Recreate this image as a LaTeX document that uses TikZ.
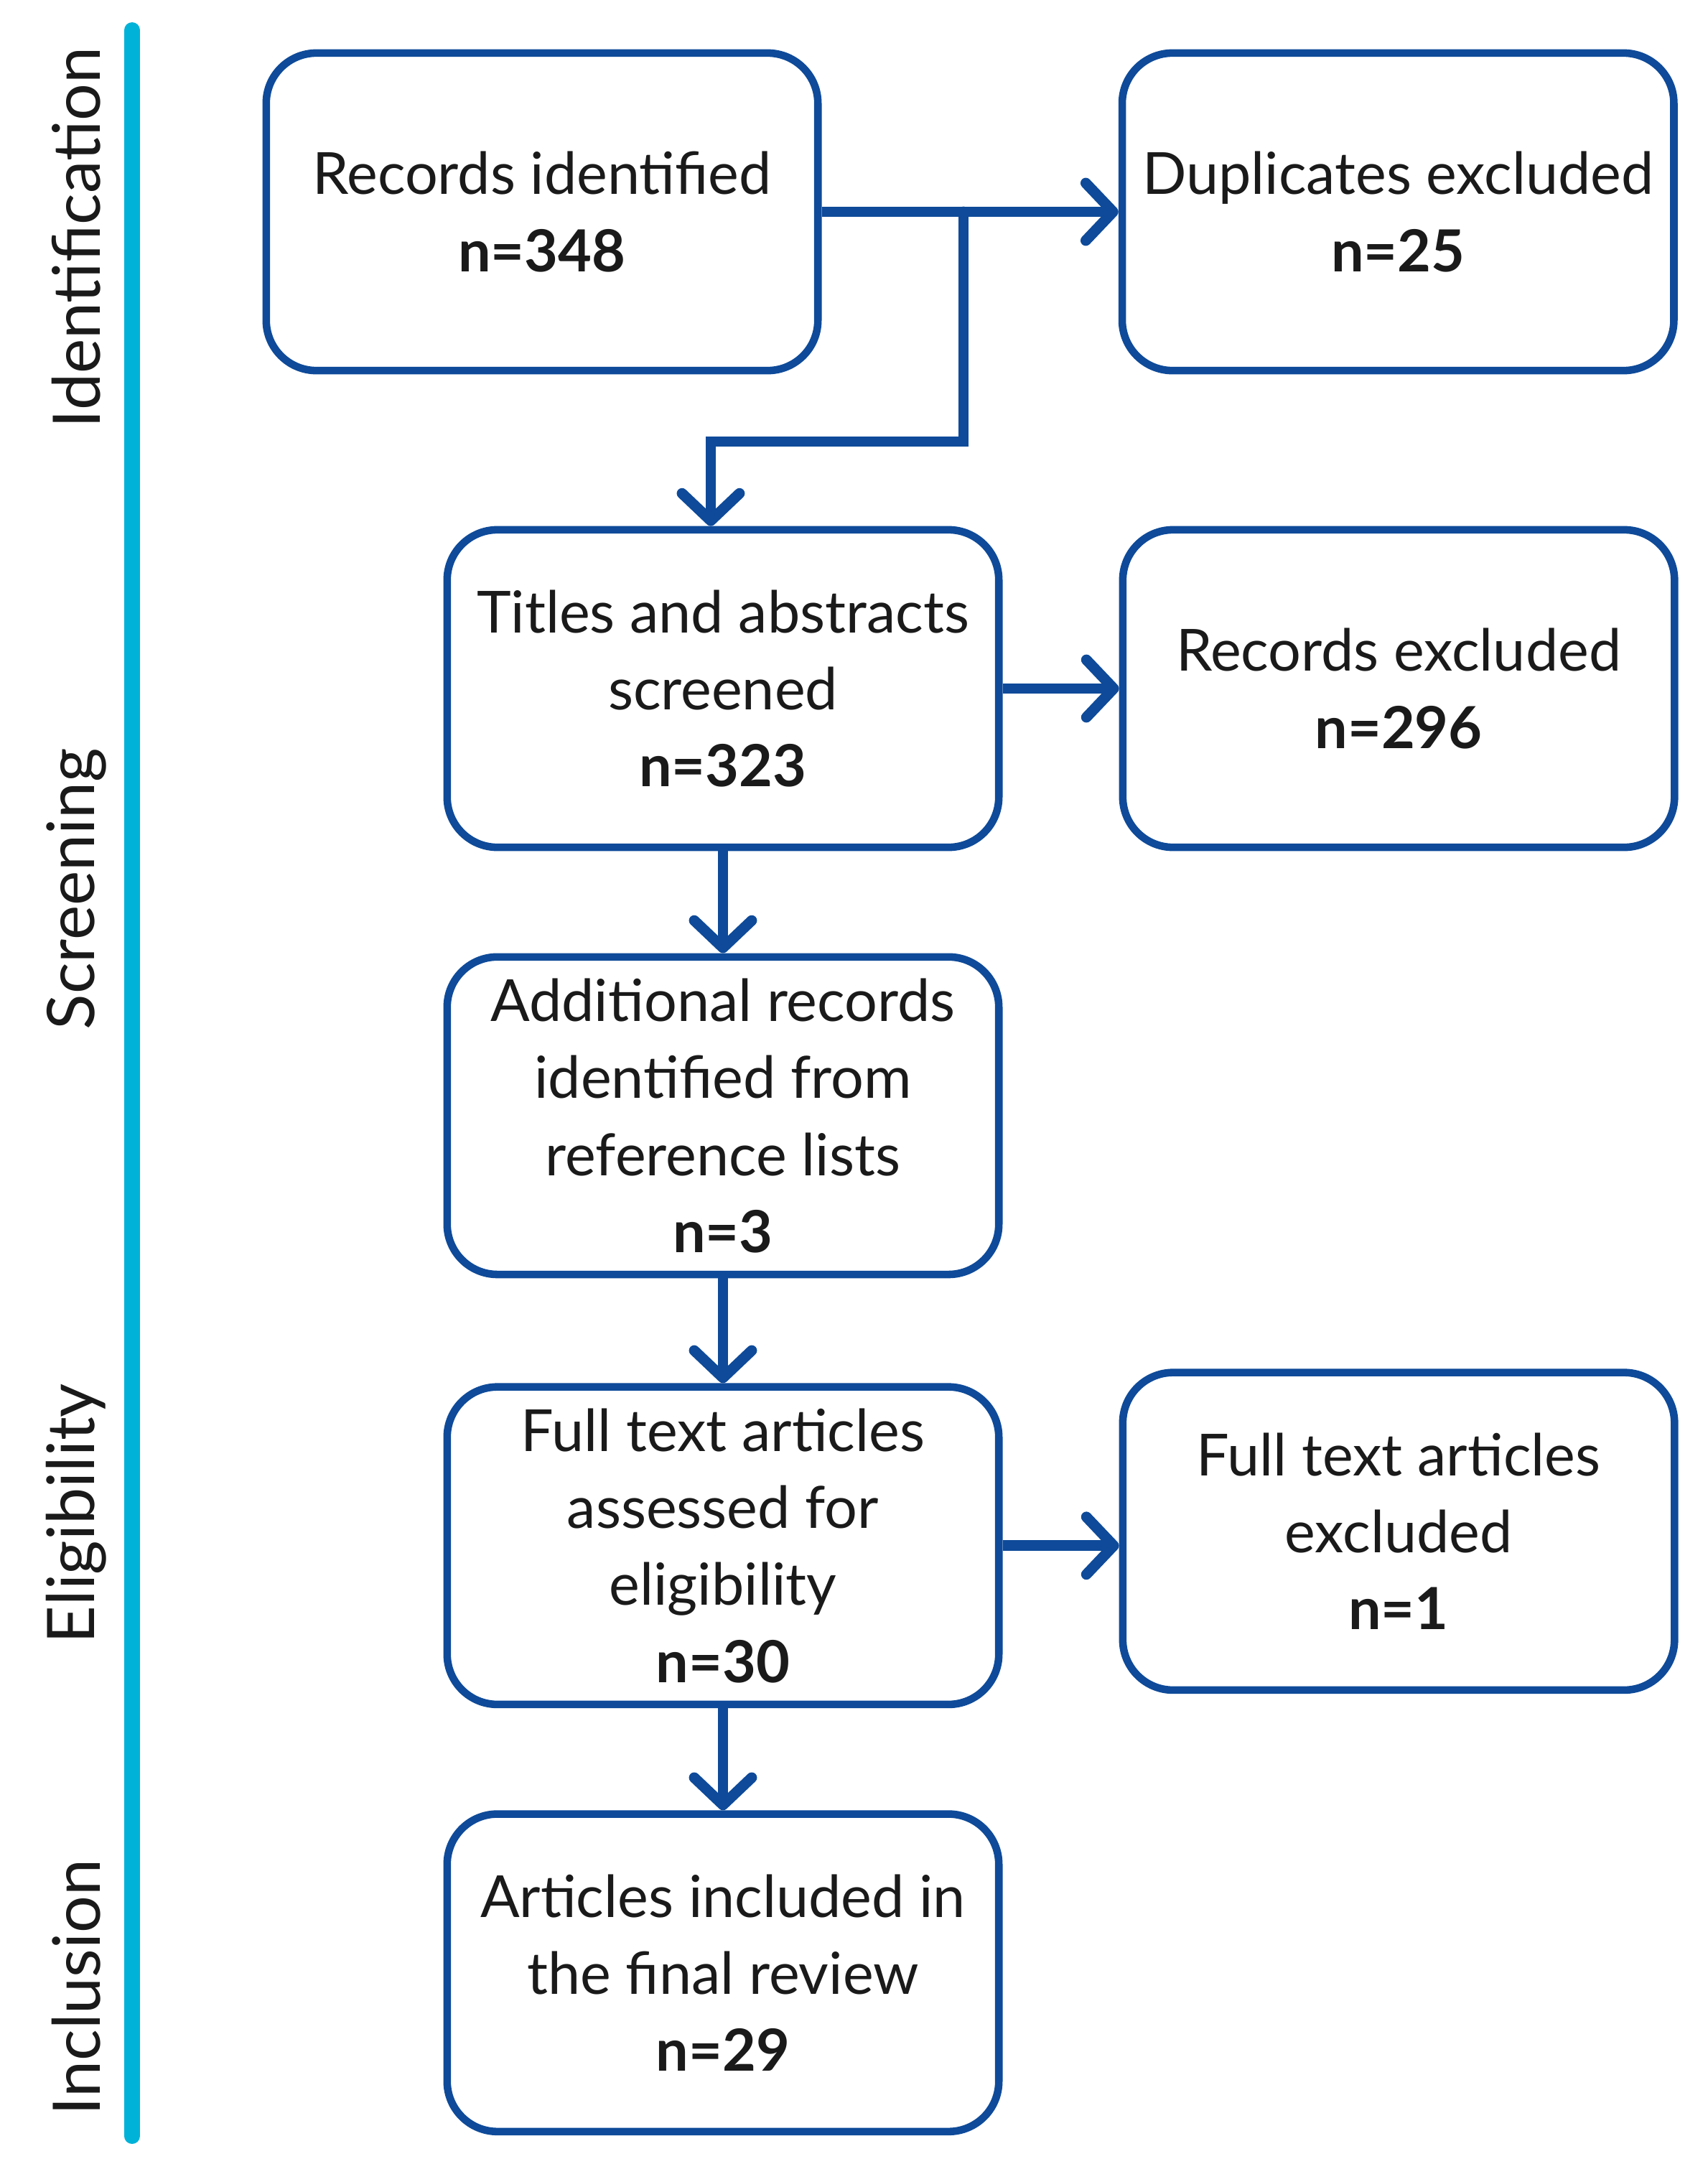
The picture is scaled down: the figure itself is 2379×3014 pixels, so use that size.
\documentclass[tikz,border=0pt]{standalone}
\usepackage{fontspec}
\setmainfont{Lato}
\usetikzlibrary{arrows.meta,positioning}
\definecolor{boxblue}{RGB}{14,74,153}
\definecolor{barcyan}{RGB}{0,178,216}
\definecolor{txt}{RGB}{26,26,26}

\begin{document}
\begin{tikzpicture}[x=0.01cm, y=-0.01cm, node distance=14.2mm,
    every node/.style={font=\fontsize{23}{30.5}\selectfont, text=txt},
    s/.style={draw=boxblue, line width=3pt, rounded corners=7mm, minimum width=7.68cm, minimum height=4.42cm, align=center, inner sep=0pt},
    lbl/.style={rotate=90, font=\fontsize{26}{30}\selectfont},
    a/.style={draw=boxblue, line width=4.2pt, -{Straight Barb[length=3.8mm, width=8mm, round]}}]
    \useasboundingbox (0,0) rectangle (2379,3014);
    % phase bar and labels
    \draw[barcyan, line width=0.22cm, line cap=round] (184,42) -- (184,2975);
    \node[lbl] (li) at (106,331) {Identification};
    \node[lbl] (ls) at (106,1238) {Screening};
    \node[lbl] (le) at (106,2108) {Eligibility};
    \node[lbl] (lc) at (106,2768) {Inclusion};
    % boxes
    \node[s] (rec) at (755,295) {Records identified\\\textbf{n=348}};
    \node[s, right=4.13cm of rec] (dup) {Duplicates excluded\\\textbf{n=25}};
    \node[s] (scr) at (1007,959) {Titles and abstracts\\screened\\\textbf{n=323}};
    \node[s, right=1.62cm of scr] (rex) {Records excluded\\\textbf{n=296}};
    \node[s, below=of scr] (add) {Additional records\\identified from\\reference lists\\\textbf{n=3}};
    \node[s, below=1.46cm of add] (ful) {Full text articles\\assessed for\\eligibility\\\textbf{n=30}};
    \node[s, right=1.62cm of ful, yshift=2mm] (fex) {Full text articles\\excluded\\\textbf{n=1}};
    \node[s, below=of ful] (inc) {Articles included in\\the final review\\\textbf{n=29}};
    % connectors
    \coordinate (j) at (1342,295);
    \coordinate (k) at (1342,615);
    \draw[a] (rec.east) -- (dup.west);
    \draw[a, line cap=round] (j) -- (k) -| ([xshift=-1.7mm]scr.north);
    \draw[a] (scr.east) -- (rex.west);
    \draw[a] (scr) -- (add);
    \draw[a] (add) -- (ful);
    \draw[a] (ful.east) -- (fex.west |- ful.east);
    \draw[a] (ful) -- (inc);
\end{tikzpicture}
\end{document}
